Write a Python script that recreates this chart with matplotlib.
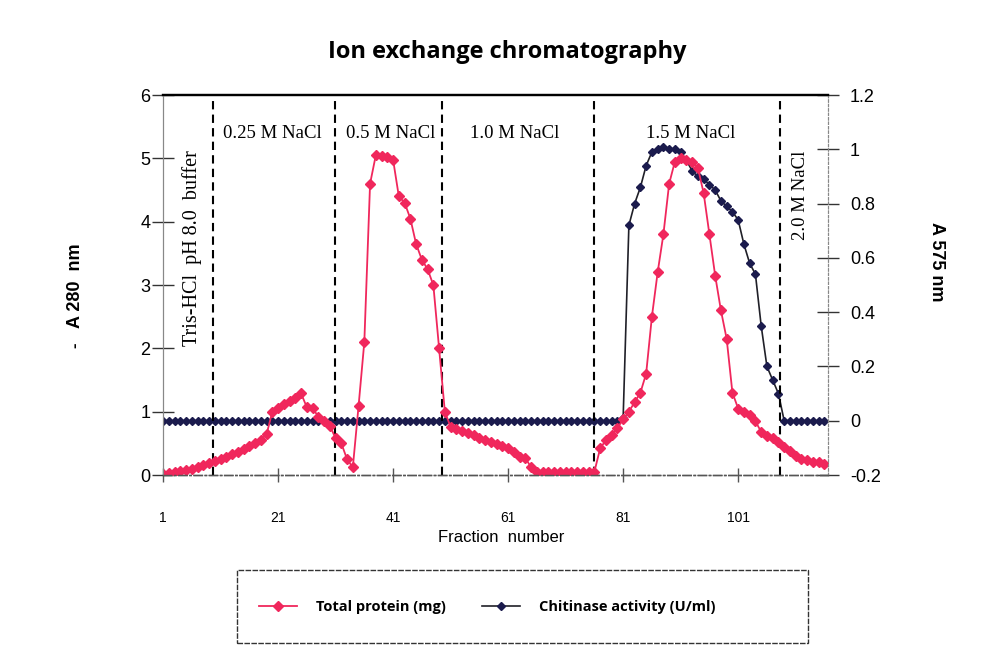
import numpy as np
from matplotlib import pyplot as plt
from matplotlib.patches import Rectangle

# fraction numbers and the two read-off series
fractions = list(range(1, 117))

total_protein = [
    0.02, 0.03, 0.04, 0.06, 0.08, 0.10, 0.13, 0.16, 0.19, 0.22,
    0.26, 0.29, 0.33, 0.37, 0.41, 0.46, 0.51, 0.56, 0.64, 1.00,
    1.06, 1.12, 1.17, 1.22, 1.29, 1.07, 1.06, 0.92, 0.85, 0.78,
    0.58, 0.50, 0.25, 0.12, 1.09, 2.10, 4.60, 5.05, 5.03, 5.02,
    4.98, 4.40, 4.30, 4.05, 3.65, 3.40, 3.25, 3.00, 2.00, 1.00,
    0.76, 0.72, 0.69, 0.66, 0.63, 0.59, 0.55, 0.52, 0.49, 0.46,
    0.43, 0.36, 0.28, 0.27, 0.12, 0.05, 0.05, 0.05, 0.05, 0.05,
    0.05, 0.05, 0.05, 0.05, 0.05, 0.05, 0.42, 0.55, 0.63, 0.74,
    0.88, 1.00, 1.15, 1.30, 1.60, 2.50, 3.20, 3.80, 4.60, 4.95,
    5.00, 4.98, 4.95, 4.85, 4.45, 3.80, 3.15, 2.60, 2.15, 1.30,
    1.05, 1.00, 0.95, 0.85, 0.68, 0.62, 0.58, 0.52, 0.45, 0.38,
    0.30, 0.26, 0.23, 0.21, 0.20, 0.18,
]

chitinase = [
    0.00, 0.00, 0.00, 0.00, 0.00, 0.00, 0.00, 0.00, 0.00, 0.00,
    0.00, 0.00, 0.00, 0.00, 0.00, 0.00, 0.00, 0.00, 0.00, 0.00,
    0.00, 0.00, 0.00, 0.00, 0.00, 0.00, 0.00, 0.00, 0.00, 0.00,
    0.00, 0.00, 0.00, 0.00, 0.00, 0.00, 0.00, 0.00, 0.00, 0.00,
    0.00, 0.00, 0.00, 0.00, 0.00, 0.00, 0.00, 0.00, 0.00, 0.00,
    0.00, 0.00, 0.00, 0.00, 0.00, 0.00, 0.00, 0.00, 0.00, 0.00,
    0.00, 0.00, 0.00, 0.00, 0.00, 0.00, 0.00, 0.00, 0.00, 0.00,
    0.00, 0.00, 0.00, 0.00, 0.00, 0.00, 0.00, 0.00, 0.00, 0.00,
    0.01, 0.72, 0.80, 0.86, 0.94, 0.99, 1.00, 1.01, 1.00, 1.00,
    0.99, 0.96, 0.92, 0.90, 0.89, 0.87, 0.85, 0.81, 0.79, 0.77,
    0.74, 0.65, 0.58, 0.54, 0.35, 0.20, 0.15, 0.10, 0.00, 0.00,
    0.00, 0.00, 0.00, 0.00, 0.00, 0.00,
]

# step boundaries and their labels
boundaries = [9.7, 30.9, 49.5, 76.0, 108.3]
step_labels = ['0.25 M NaCl', '0.5 M NaCl', '1.0 M NaCl', '1.5 M NaCl']
step_label_x = [20.1, 40.5, 62.2, 92.7]

x_ticks = [1, 21, 41, 61, 81, 101]
left_ticks = [0, 1, 2, 3, 4, 5, 6]
right_ticks = [-0.2, 0, 0.2, 0.4, 0.6, 0.8, 1, 1.2]

red = '#f0275c'
navy = '#1b1b4d'
sans = 'Liberation Sans'
serif = 'Liberation Serif'
human = 'Open Sans'

fig = plt.figure(figsize=(9.85, 6.5), dpi=100)
ax1 = fig.add_axes([0.1655, 0.2692, 0.675, 0.5846])
ax2 = ax1.twinx()
ax1.set_zorder(ax2.get_zorder() + 1)
ax1.patch.set_visible(False)

l2, = ax2.plot(fractions, chitinase, color='#202028', lw=1.2, marker='D',
               ms=4.5, mfc=navy, mec=navy, label='Chitinase activity (U/ml)')
l1, = ax1.plot(fractions, total_protein, color=red, lw=1.3, marker='D',
               ms=5, mfc=red, mec=red, label='Total protein (mg)')

for b in boundaries:
    ax1.axvline(b, color='black', ls=(0, (4, 2.5)), lw=1.5, zorder=1)

ax1.set_xlim(1, 116.6)
ax1.set_ylim(0, 6)
ax2.set_ylim(-0.2, 1.2)

ax1.set_xticks(x_ticks)
ax1.set_yticks(left_ticks)
ax2.set_yticks(right_ticks)
ax2.set_yticklabels(['-0.2', '0', '0.2', '0.4', '0.6', '0.8', '1', '1.2'])

ax1.tick_params(axis='x', direction='inout', length=10, width=1, color='#555555',
                pad=21, labelsize=10)
ax1.tick_params(axis='y', direction='inout', length=16, width=1, color='#333333',
                pad=1, labelsize=13)
ax2.tick_params(axis='y', direction='inout', length=16, width=1, color='#333333',
                pad=8, labelsize=13)
for lab in ax1.get_xticklabels() + ax1.get_yticklabels() + ax2.get_yticklabels():
    lab.set_family(sans)

for a in (ax1, ax2):
    a.spines['top'].set_linewidth(1.6)
    a.spines['top'].set_color('black')
    a.spines['left'].set_color('#888888')
    a.spines['left'].set_linewidth(0.8)
    a.spines['right'].set_color('#888888')
    a.spines['right'].set_linewidth(0.8)
    a.spines['right'].set_linestyle((0, (2, 2)))
    a.spines['bottom'].set_color('#555555')
    a.spines['bottom'].set_linewidth(1)
    a.spines['bottom'].set_linestyle((0, (6, 2, 1, 2)))

for lab, xl in zip(step_labels, step_label_x):
    ax1.text(xl, 5.4, lab, ha='center', va='center', family=serif, fontsize=13.5)
ax1.text(111.8, 4.42, '2.0 M NaCl', rotation=90, ha='center', va='center',
         family=serif, fontsize=13.5)
ax1.text(6.0, 3.58, 'Tris-HCl  pH 8.0  buffer', rotation=90, ha='center',
         va='center', family=serif, fontsize=14.5)

fig.text(0.515, 1 - 52 / 650, 'Ion exchange chromatography', ha='center',
         va='center', family=human, fontweight='bold', fontsize=17)
fig.text(75 / 985, 1 - 286 / 650, 'A 280  nm', rotation=90, ha='center',
         va='center', family=sans, fontweight='bold', fontsize=13)
fig.text(75 / 985, 1 - 345 / 650, '-', rotation=90, ha='center',
         va='center', family=sans, fontweight='bold', fontsize=12)
fig.text(937 / 985, 1 - 262 / 650, 'A 575 nm', rotation=-90, ha='center',
         va='center', family=sans, fontweight='bold', fontsize=13)
fig.text(501 / 985, 1 - 538 / 650, 'Fraction  number', ha='center',
         va='center', family=sans, fontsize=12)

# legend box
box = Rectangle((237 / 985, 1 - 643 / 650), (808 - 237) / 985, (643 - 570) / 650,
                transform=fig.transFigure, fill=False, edgecolor='#333333',
                lw=1, ls=(0, (4, 1)))
fig.patches.append(box)
fig.legend([l1, l2], ['Total protein (mg)', 'Chitinase activity (U/ml)'],
           loc='center', bbox_to_anchor=(487 / 985, 1 - 607 / 650), ncol=2,
           frameon=False, handlelength=2.6, handletextpad=1.3, columnspacing=2.5,
           prop={'family': human, 'weight': 'bold', 'size': 10.5})

plt.savefig('out.png', dpi=100)
